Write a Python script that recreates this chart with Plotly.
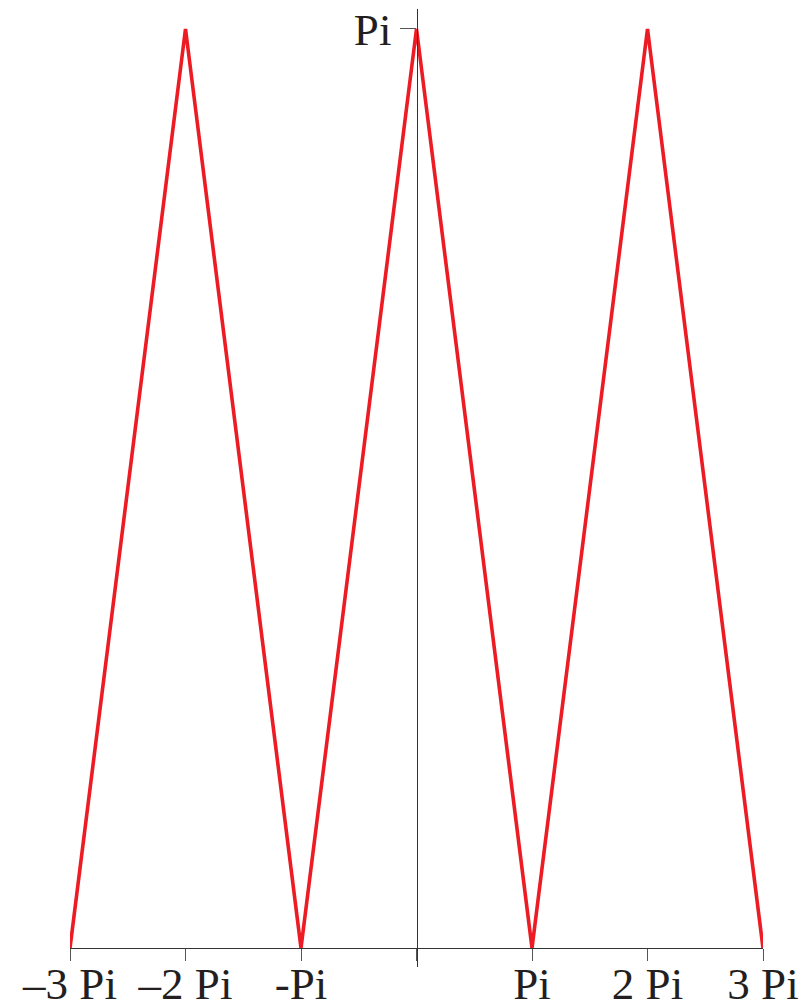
import math
import plotly.graph_objects as go

PI = math.pi

# Triangle wave vertices, x in multiples of pi
x_multiples = [-3, -2, -1, 0, 1, 2, 3]
y_multiples = [0, 1, 0, 1, 0, 1, 0]

# Axis ticks
x_tick_multiples = [-3, -2, -1, 0, 1, 2, 3]
x_tick_labels = ["\u20133 Pi", "\u20132 Pi", "-Pi", "", "Pi", "2 Pi", "3 Pi"]
y_tick_multiples = [1]
y_tick_labels = ["Pi"]

xs = [m * PI for m in x_multiples]
ys = [m * PI for m in y_multiples]

W, H = 798, 1006
margin_l, margin_r, margin_t, margin_b = 70, 35, 9, 39

# y range padded so the vertical axis extends a little past the data
y_min, y_max = -0.065, PI + 0.068
x_min, x_max = -3 * PI, 3 * PI

axis_font = dict(family="'Times New Roman', 'Liberation Serif', Times, serif", size=45, color="#231f20")

fig = go.Figure(
    go.Scatter(
        x=xs,
        y=ys,
        mode="lines",
        line=dict(color="#ed1c24", width=3.6),
        hoverinfo="skip",
        cliponaxis=False,
    )
)

fig.update_layout(
    width=W,
    height=H,
    margin=dict(l=margin_l, r=margin_r, t=margin_t, b=margin_b, autoexpand=False),
    paper_bgcolor="white",
    plot_bgcolor="white",
    showlegend=False,
    xaxis=dict(
        range=[x_min, x_max],
        anchor="free",
        position=(0 - y_min) / (y_max - y_min),
        automargin=False,
        showgrid=False,
        zeroline=False,
        showline=True,
        linecolor="#333333",
        linewidth=1.2,
        tickmode="array",
        tickvals=[m * PI for m in x_tick_multiples],
        ticktext=x_tick_labels,
        ticks="outside",
        ticklen=12,
        tickwidth=1.2,
        tickcolor="#555555",
        tickfont=axis_font,
        ticklabelstandoff=-16,
        ticklabeloverflow="allow",
        fixedrange=True,
    ),
    yaxis=dict(
        range=[y_min, y_max],
        anchor="free",
        position=(0 - x_min) / (x_max - x_min),
        automargin=False,
        showgrid=False,
        zeroline=False,
        showline=True,
        linecolor="#333333",
        linewidth=1.2,
        tickmode="array",
        tickvals=[m * PI for m in y_tick_multiples],
        ticktext=y_tick_labels,
        ticks="outside",
        ticklen=16,
        tickwidth=1.2,
        tickcolor="#555555",
        tickfont=axis_font,
        ticklabeloverflow="allow",
        fixedrange=True,
    ),
)

fig.write_html("out.html", config={"displayModeBar": False})
